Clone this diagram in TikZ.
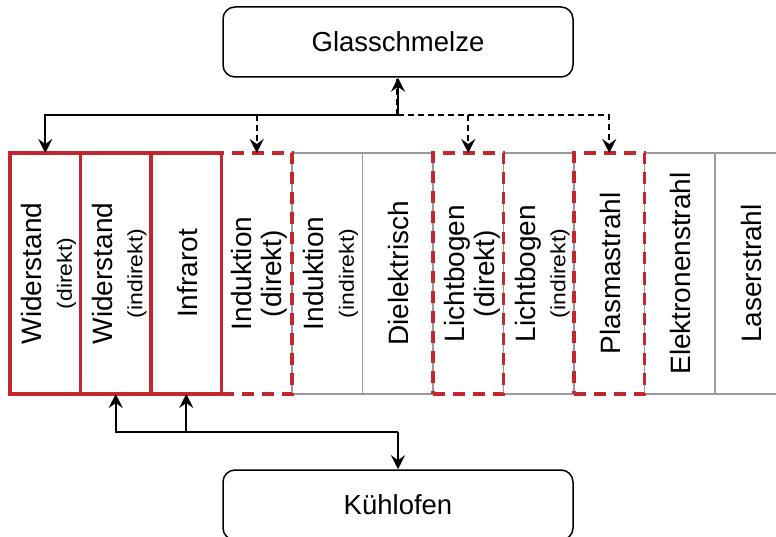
\documentclass[tikz,border=0pt]{standalone}
\usepackage{fontspec}
\usepackage{graphicx}
\setmainfont{Liberation Sans}
\usetikzlibrary{arrows.meta}
\definecolor{myred}{RGB}{193,39,45}
\definecolor{mygray}{RGB}{152,154,157}
\newcommand{\subtxt}[1]{{\fontsize{23}{23}\selectfont\scalebox{1}[0.9]{#1}}}
\begin{document}
\begin{tikzpicture}[x=1pt,y=-1pt,
  col/.style={rectangle, inner sep=0pt, outer sep=0pt, minimum width=70.5pt, minimum height=241pt},
  graybox/.style={col, draw=mygray, line width=1.6pt},
  redbox/.style={col, draw=myred, line width=3.2pt},
  reddash/.style={col, draw=myred, line width=3.2pt, dash pattern=on 12pt off 8pt},
  lbl/.style={rotate=90, align=center, inner sep=0pt, font=\fontsize{28}{30}\selectfont},
  endbox/.style={rectangle, rounded corners=12pt, draw=black, line width=1.5pt, minimum width=350pt, minimum height=70pt, inner sep=0pt, font=\fontsize{27.5}{29}\selectfont},
  conn/.style={draw=black, line width=1.6pt},
  tip/.style={-{Stealth[length=14pt,width=14pt,inset=5pt]}},
  blackdash/.style={dash pattern=on 6pt off 4pt}
]
\useasboundingbox (0,0) rectangle (776,537);
\clip (0,0) rectangle (776,537);

% gray boxes
\node[graybox] (b5) at (327.25,273.5) {};
\node[graybox] (b6) at (397.75,273.5) {};
\node[graybox] (b8) at (538.75,273.5) {};
\node[graybox] (b10) at (679.75,273.5) {};
\node[graybox] (b11) at (750.25,273.5) {};
% red dashed boxes
\node[reddash] (b4) at (256.75,273.5) {};
\node[reddash] (b7) at (468.25,273.5) {};
\node[reddash] (b9) at (609.25,273.5) {};
% red solid boxes
\node[redbox] (b1) at (45.25,273.5) {};
\node[redbox] (b2) at (115.75,273.5) {};
\node[redbox] (b3) at (186.25,273.5) {};

% labels
\node[lbl] (t1) at ([xshift=3.5pt]b1.center) {Widerstand\\\subtxt{(direkt)}};
\node[lbl] (t2) at ([xshift=3.5pt]b2.center) {Widerstand\\\subtxt{(indirekt)}};
\node[lbl] (t3) at ([xshift=1pt]b3.center) {Infrarot};
\node[lbl] (t4) at ([xshift=3pt]b4.center) {Induktion\\(direkt)};
\node[lbl] (t5) at ([xshift=3.5pt]b5.center) {Induktion\\\subtxt{(indirekt)}};
\node[lbl] (t6) at ([xshift=1pt]b6.center) {Dielektrisch};
\node[lbl] (t7) at ([xshift=3.5pt]b7.center) {Lichtbogen\\(direkt)};
\node[lbl] (t8) at ([xshift=3.5pt]b8.center) {Lichtbogen\\\subtxt{(indirekt)}};
\node[lbl] (t9) at ([xshift=1pt]b9.center) {Plasmastrahl};
\node[lbl] (t10) at ([xshift=1pt]b10.center) {Elektronenstrahl};
\node[lbl] (t11) at (751,273.5) {Laserstrahl};

% end boxes
\node[endbox] (g) at (398,42) {Glasschmelze};
\node[endbox] (kf) at (398,505) {Kühlofen};

% top connectors
\coordinate (j) at (g.south |- 0,115);
\draw[conn,blackdash] ([xshift=-1pt]j) -- ([xshift=-1pt]g.south);
\draw[conn,tip] (j) -- (g.south);
\draw[conn,tip] (j) -| (b1.north);
\draw[conn,blackdash] (b4.north |- j) -- (j);
\draw[conn,blackdash,tip] (j) -| (b9.north);
\draw[conn,blackdash,tip] (b4.north |- j) -- (b4.north);
\draw[conn,blackdash,tip] (b7.north |- j) -- (b7.north);

% bottom connectors
\coordinate (kj) at (kf.north |- 0,432);
\draw[conn,tip] (kj) -- (kf.north);
\draw[conn,tip] (kj) -| (b2.south);
\draw[conn,tip] (b3.south |- kj) -- (b3.south);
\end{tikzpicture}
\end{document}
